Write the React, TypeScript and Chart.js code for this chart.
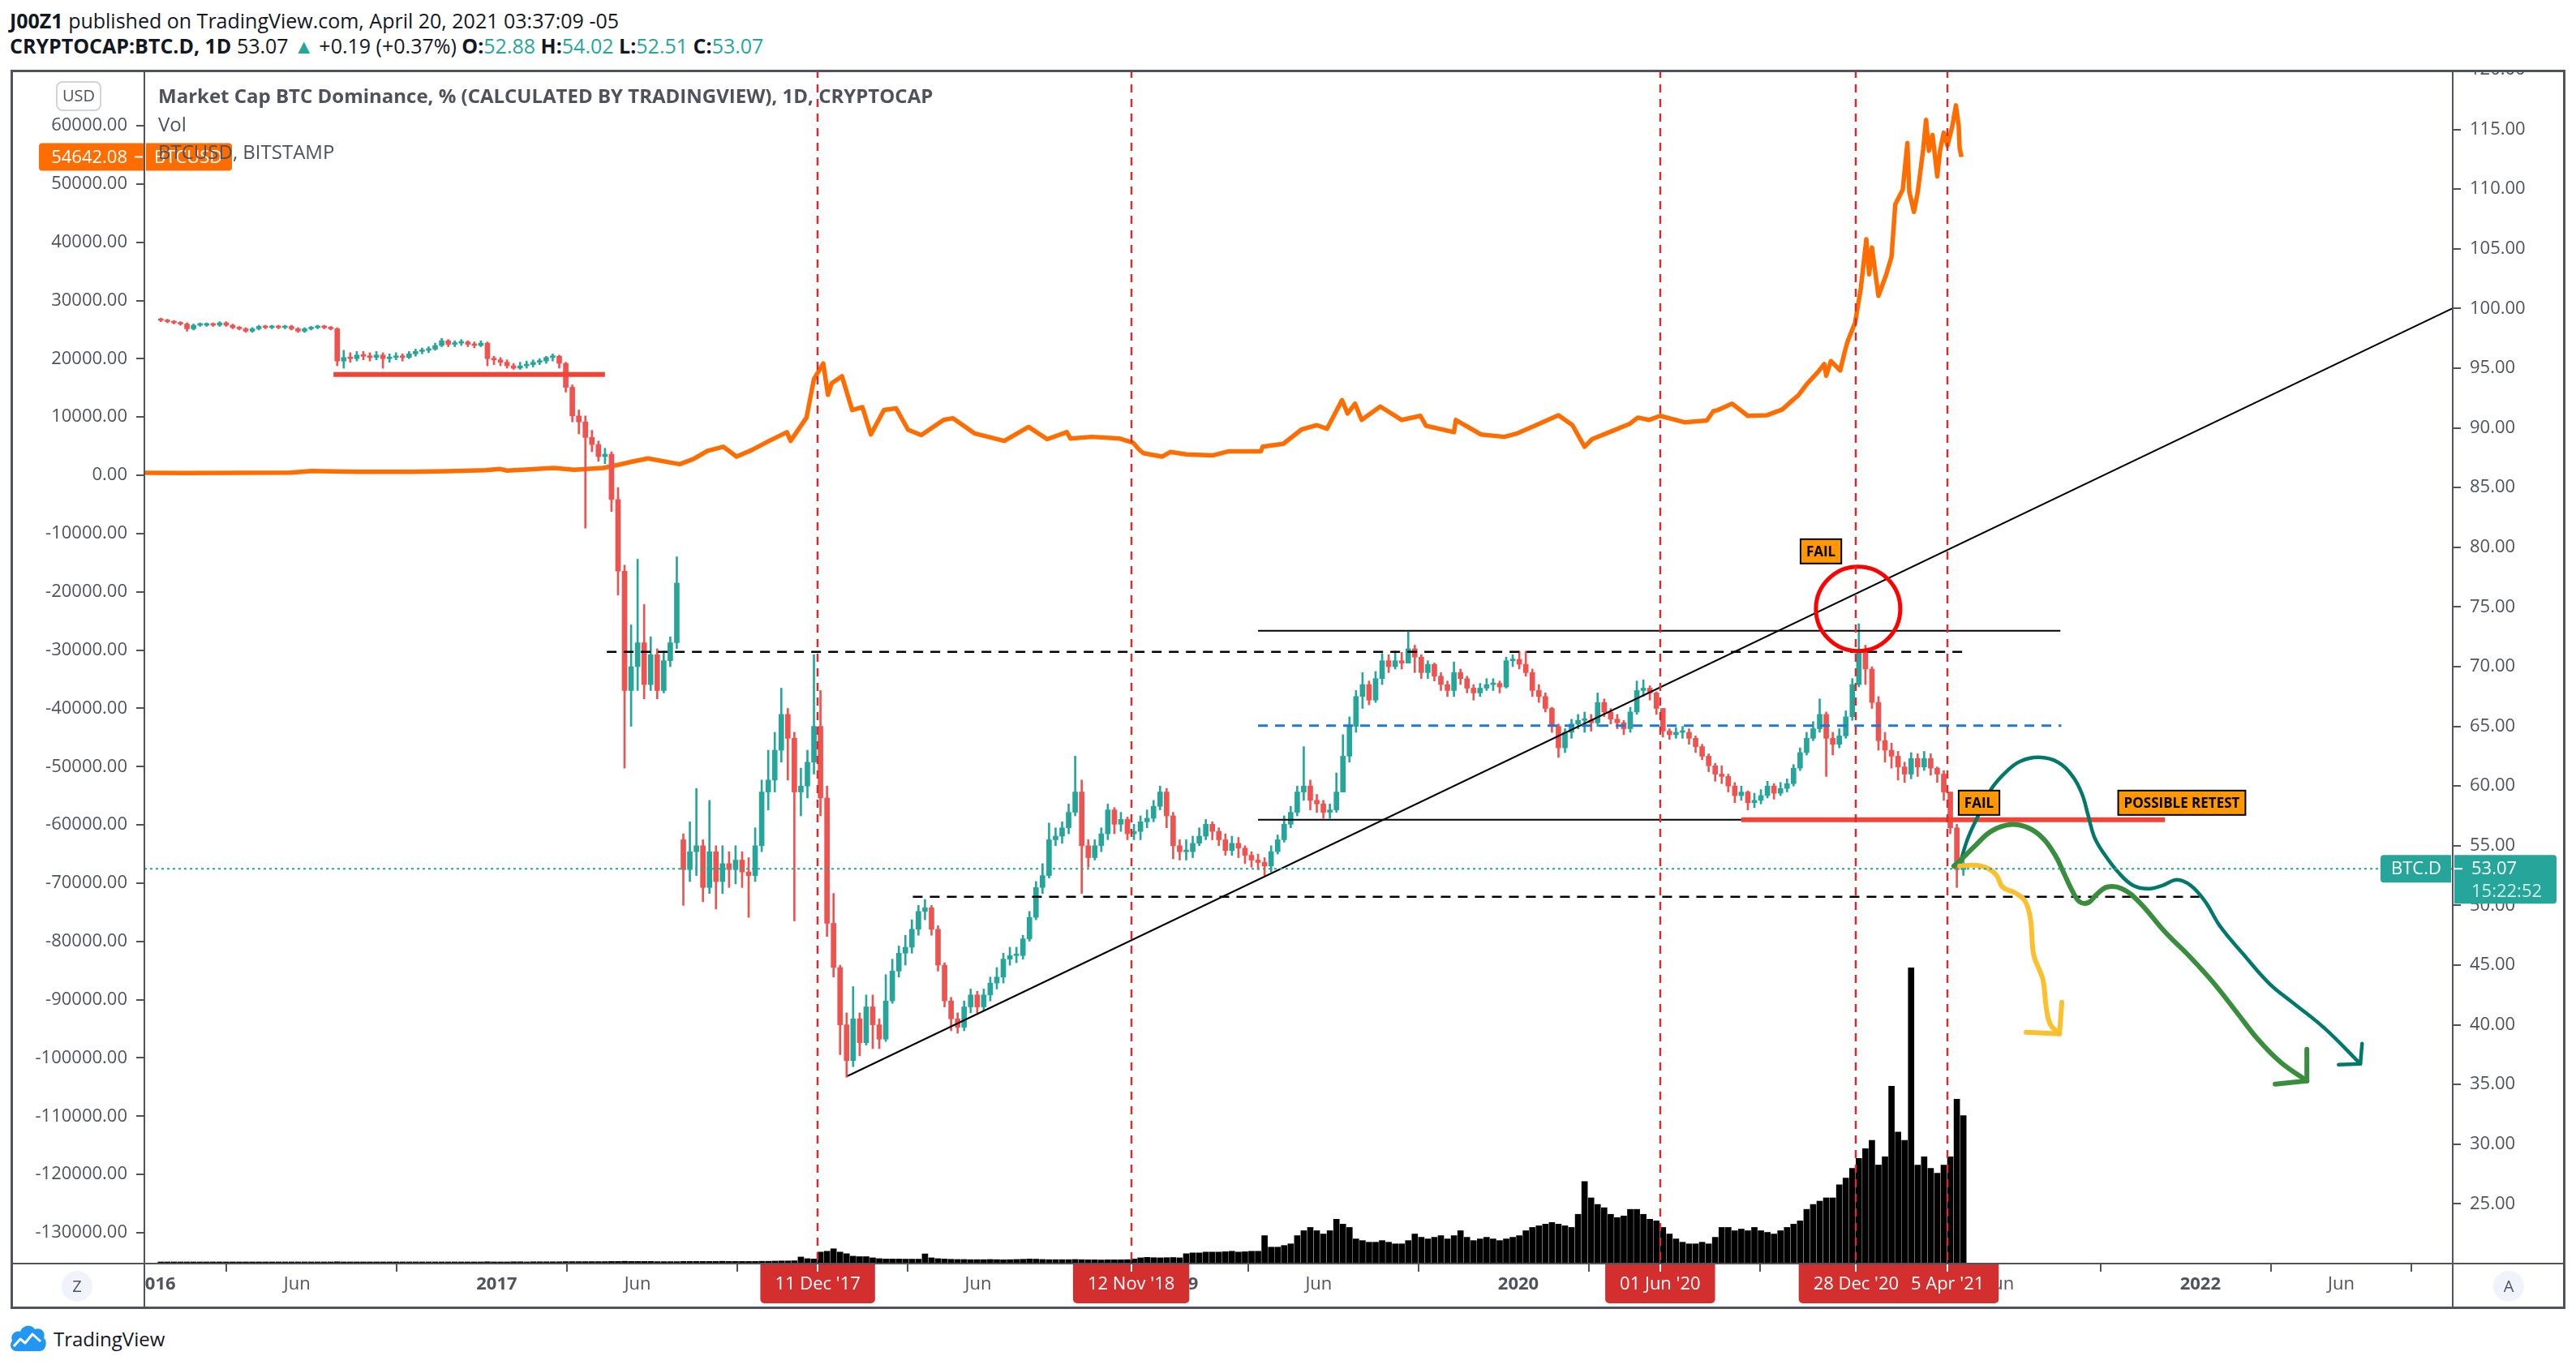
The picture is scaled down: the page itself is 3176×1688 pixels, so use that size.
import React, { useEffect, useRef } from 'react';
import { Chart, registerables } from 'chart.js';

Chart.register(...registerables);

// ---------------- DATA ----------------
// BTC dominance, weekly candles [open, high, low, close], weeks start Monday 2016-01-04
const dom2016 = [
  [99.1, 99.2, 98.9, 99.0], [99.0, 99.1, 98.8, 98.9], [98.9, 99.0, 98.7, 98.8], [98.8, 98.9, 98.6, 98.7],
  [98.7, 98.8, 98.1, 98.3], [98.3, 98.7, 98.2, 98.6], [98.6, 98.8, 98.5, 98.6], [98.6, 98.8, 98.5, 98.7],
  [98.7, 98.8, 98.5, 98.6], [98.6, 98.9, 98.5, 98.8], [98.8, 98.9, 98.5, 98.6], [98.6, 98.7, 98.3, 98.4],
  [98.4, 98.5, 98.2, 98.3], [98.3, 98.4, 98.0, 98.1], [98.1, 98.4, 98.0, 98.3], [98.3, 98.6, 98.2, 98.5],
  [98.5, 98.6, 98.3, 98.4], [98.4, 98.6, 98.3, 98.5], [98.5, 98.6, 98.3, 98.4], [98.4, 98.6, 98.3, 98.5],
  [98.5, 98.6, 98.2, 98.3], [98.3, 98.4, 98.0, 98.1], [98.1, 98.4, 98.0, 98.3], [98.3, 98.5, 98.2, 98.4],
  [98.4, 98.6, 98.3, 98.5], [98.5, 98.6, 98.3, 98.4], [98.4, 98.5, 98.2, 98.3], [98.3, 98.4, 95.2, 95.6],
  [95.6, 96.5, 95.0, 95.9], [95.9, 96.3, 95.5, 95.8], [95.8, 96.4, 95.6, 96.1], [96.1, 96.4, 95.7, 96.0],
  [96.0, 96.3, 95.6, 95.9], [95.9, 96.4, 95.7, 96.1], [96.1, 96.3, 95.0, 95.8], [95.8, 96.2, 95.5, 95.9],
  [95.9, 96.3, 95.7, 96.0], [96.0, 96.2, 95.6, 95.9], [95.9, 96.4, 95.8, 96.2], [96.2, 96.6, 96.0, 96.4],
  [96.4, 96.7, 96.2, 96.5], [96.5, 96.8, 96.3, 96.6], [96.6, 97.1, 96.5, 96.9], [96.9, 97.5, 96.8, 97.3],
  [97.3, 97.4, 96.8, 97.0], [97.0, 97.3, 96.8, 97.1], [97.1, 97.4, 96.9, 97.2], [97.2, 97.3, 96.8, 97.0],
  [97.0, 97.2, 96.7, 96.9], [96.9, 97.3, 96.8, 97.1], [97.1, 97.2, 95.2, 95.8], [95.8, 96.0, 95.3, 95.7],
];
const dom2017 = [
  [95.7, 95.9, 95.2, 95.5], [95.5, 95.7, 95.0, 95.2], [95.2, 95.4, 94.9, 95.0], [95.0, 95.5, 94.9, 95.2],
  [95.2, 95.6, 95.0, 95.3], [95.3, 95.7, 95.1, 95.5], [95.5, 95.8, 95.3, 95.6], [95.6, 96.0, 95.4, 95.9],
  [95.9, 96.2, 95.6, 96.0], [96.0, 96.1, 95.0, 95.4], [95.4, 95.5, 93.0, 93.4], [93.4, 93.6, 90.5, 91.0],
  [91.0, 91.5, 89.5, 90.5], [90.5, 91.0, 81.6, 89.2], [89.2, 89.8, 88.0, 88.6], [88.6, 88.9, 87.2, 87.6],
  [87.6, 88.3, 87.0, 87.8], [87.8, 88.0, 83.0, 84.0], [84.0, 85.0, 76.0, 78.0], [78.0, 78.5, 61.5, 68.0],
  [68.0, 73.5, 65.0, 70.0], [70.0, 79.0, 68.0, 72.0], [72.0, 75.2, 67.3, 68.5], [68.5, 72.5, 68.0, 71.0],
  [71.0, 71.5, 67.3, 68.0], [68.0, 71.3, 67.8, 70.5], [70.5, 72.5, 70.0, 72.0], [72.0, 79.2, 71.5, 77.0],
  [55.5, 56.0, 50.0, 53.0], [53.0, 57.0, 52.0, 54.5], [54.5, 59.8, 52.5, 55.0], [55.0, 55.5, 50.3, 51.5],
  [51.5, 58.8, 51.0, 54.5], [54.5, 55.0, 49.7, 52.0], [52.0, 55.0, 51.0, 53.5], [53.5, 54.5, 51.5, 53.0],
  [53.0, 55.0, 51.8, 53.8], [53.8, 54.5, 51.5, 52.8], [52.8, 54.0, 49.0, 52.5], [52.5, 56.5, 52.0, 55.0],
  [55.0, 60.5, 54.5, 59.5], [59.5, 63.0, 58.0, 60.5], [60.5, 64.5, 59.5, 63.0], [63.0, 68.2, 62.0, 66.0],
  [66.0, 66.5, 60.5, 64.0], [64.0, 64.5, 48.7, 59.5], [59.5, 61.5, 57.5, 60.0], [60.0, 63.0, 59.0, 62.0],
  [62.0, 71.0, 61.0, 65.0], [65.0, 68.0, 57.5, 59.0], [59.0, 60.0, 47.4, 48.5], [48.5, 51.0, 44.0, 44.8],
];
const dom2018 = [
  [44.8, 45.0, 37.5, 40.0], [40.0, 41.0, 35.6, 37.0], [37.0, 43.2, 36.5, 40.5], [40.5, 41.0, 37.4, 38.5],
  [38.5, 42.5, 38.3, 41.5], [41.5, 42.5, 38.0, 40.0], [40.0, 40.5, 38.0, 38.8], [38.8, 44.2, 38.6, 42.0],
  [42.0, 45.5, 41.8, 44.5], [44.5, 46.6, 44.0, 46.0], [46.0, 47.5, 45.0, 46.5], [46.5, 48.8, 46.0, 48.0],
  [48.0, 50.0, 47.5, 49.5], [49.5, 50.5, 48.8, 49.8], [49.8, 50.0, 47.5, 48.0], [48.0, 48.3, 44.5, 45.0],
  [45.0, 45.2, 41.5, 42.0], [42.0, 42.3, 39.5, 40.5], [40.5, 41.0, 39.3, 39.8], [39.8, 42.0, 39.5, 41.5],
  [41.5, 43.0, 41.0, 42.5], [42.5, 42.8, 41.0, 41.5], [41.5, 43.0, 41.2, 42.5], [42.5, 44.0, 42.0, 43.5],
  [43.5, 44.8, 43.0, 44.0], [44.0, 46.0, 43.5, 45.5], [45.5, 46.5, 45.0, 45.8], [45.8, 46.5, 45.2, 45.8],
  [45.8, 47.5, 45.5, 47.2], [47.2, 49.5, 47.0, 49.0], [49.0, 52.0, 48.8, 51.5], [51.5, 53.5, 51.0, 52.5],
  [52.5, 56.9, 52.3, 55.5], [55.5, 56.5, 55.0, 55.8], [55.8, 57.0, 55.2, 56.5], [56.5, 58.5, 56.0, 57.8],
  [57.8, 62.5, 57.5, 59.5], [59.5, 60.5, 51.0, 55.0], [55.0, 55.5, 53.2, 54.0], [54.0, 55.5, 53.8, 55.0],
  [55.0, 56.5, 54.5, 56.0], [56.0, 58.5, 55.5, 58.0], [58.0, 58.2, 56.0, 56.8], [56.8, 57.8, 56.2, 57.2],
  [57.2, 57.4, 55.5, 56.0], [56.0, 56.8, 55.5, 56.2], [56.2, 57.5, 55.5, 57.0], [57.0, 58.0, 56.5, 57.3],
  [57.3, 58.8, 57.0, 58.3], [58.3, 60.0, 58.0, 59.5], [59.5, 59.8, 56.5, 57.5], [57.5, 57.8, 53.9, 55.0],
  [55.0, 55.5, 53.8, 54.5],
];
const dom2019 = [
  [54.5, 55.5, 53.8, 54.5], [54.5, 55.8, 54.0, 55.2], [55.2, 56.5, 55.0, 55.8], [55.8, 57.2, 55.5, 56.8],
  [56.8, 57.0, 55.5, 56.2], [56.2, 56.5, 55.0, 55.5], [55.5, 56.0, 54.2, 54.6], [54.6, 55.8, 54.2, 55.2],
  [55.2, 55.7, 54.0, 54.8], [54.8, 55.0, 53.5, 54.2], [54.2, 54.5, 53.2, 53.8], [53.8, 54.3, 53.0, 53.6],
  [53.6, 54.0, 52.5, 53.3], [53.3, 55.0, 52.8, 54.5], [54.5, 55.9, 54.3, 55.5], [55.5, 57.5, 55.3, 56.8],
  [56.8, 58.3, 56.5, 57.8], [57.8, 60.0, 57.5, 59.5], [59.5, 63.3, 58.8, 60.0], [60.0, 60.5, 58.0, 58.8],
  [58.8, 59.3, 57.8, 58.5], [58.5, 58.8, 57.3, 57.8], [57.8, 58.5, 57.3, 58.0], [58.0, 61.1, 57.8, 59.5],
  [59.5, 64.3, 59.5, 62.5], [62.5, 65.8, 62.0, 65.0], [65.0, 68.0, 64.5, 67.5], [67.5, 69.5, 66.5, 68.5],
  [68.5, 68.8, 66.8, 67.2], [67.2, 69.6, 67.0, 69.0], [69.0, 71.1, 68.5, 70.5], [70.5, 71.0, 69.5, 70.0],
  [70.0, 71.3, 69.8, 70.5], [70.5, 71.2, 69.8, 70.3], [70.3, 72.9, 70.3, 71.5], [71.5, 71.8, 69.5, 70.8],
  [70.8, 71.0, 69.0, 69.5], [69.5, 70.5, 69.0, 70.2], [70.2, 70.3, 68.8, 69.2], [69.2, 69.5, 68.0, 68.5],
  [68.5, 68.8, 67.5, 68.0], [68.0, 70.4, 67.5, 69.5], [69.5, 69.8, 68.5, 69.0], [69.0, 69.2, 67.8, 68.2],
  [68.2, 68.5, 67.2, 67.8], [67.8, 68.6, 67.5, 68.2], [68.2, 69.0, 68.0, 68.5], [68.5, 69.0, 68.0, 68.6],
  [68.6, 68.8, 67.8, 68.3], [68.3, 70.8, 68.2, 70.5], [70.5, 71.0, 70.0, 70.6], [70.6, 71.3, 69.8, 70.2],
];
const dom2020 = [
  [70.2, 71.3, 69.2, 69.5], [69.5, 69.8, 67.5, 68.0], [68.0, 68.5, 67.0, 67.5], [67.5, 67.8, 66.2, 66.5],
  [66.5, 66.6, 64.5, 65.0], [65.0, 65.2, 62.4, 63.2], [63.2, 64.8, 62.8, 64.5], [64.5, 65.6, 64.0, 65.2],
  [65.2, 66.0, 64.8, 65.5], [65.5, 66.2, 64.5, 65.5], [65.5, 66.0, 64.6, 65.3], [65.3, 67.8, 65.0, 67.0],
  [67.0, 67.3, 65.8, 66.2], [66.2, 66.5, 65.2, 65.6], [65.6, 66.0, 64.8, 65.3], [65.3, 65.5, 64.3, 64.8],
  [64.8, 66.6, 64.5, 66.2], [66.2, 68.8, 66.0, 68.0], [68.0, 68.9, 67.5, 68.2], [68.2, 68.4, 67.2, 67.8],
  [67.8, 67.9, 66.0, 66.5], [66.5, 66.5, 64.1, 64.6], [64.6, 64.8, 63.9, 64.3], [64.3, 64.9, 64.0, 64.5],
  [64.5, 65.0, 64.0, 64.5], [64.5, 64.8, 63.5, 64.0], [64.0, 64.2, 62.8, 63.3], [63.3, 63.5, 62.2, 62.5],
  [62.5, 62.7, 61.2, 61.7], [61.7, 61.9, 60.4, 61.0], [61.0, 61.7, 60.2, 60.8], [60.8, 61.0, 59.5, 60.0],
  [60.0, 60.3, 58.6, 59.2], [59.2, 60.0, 58.8, 59.5], [59.5, 59.6, 58.0, 58.6], [58.6, 59.4, 58.2, 58.8],
  [58.8, 59.7, 58.5, 59.2], [59.2, 60.4, 59.0, 60.0], [60.0, 60.2, 58.9, 59.4], [59.4, 60.3, 59.2, 59.8],
  [59.8, 60.6, 59.5, 60.2], [60.2, 61.8, 60.0, 61.5], [61.5, 63.2, 61.3, 62.8], [62.8, 64.5, 62.6, 64.0],
  [64.0, 65.4, 63.8, 64.8], [64.8, 67.3, 64.5, 66.0], [66.0, 66.2, 60.8, 64.0], [64.0, 64.5, 62.6, 63.5],
  [63.5, 64.8, 63.2, 64.2], [64.2, 66.3, 64.0, 65.8], [65.8, 69.0, 65.5, 68.5], [68.5, 73.6, 68.3, 71.3],
];
const dom2021 = [
  [71.3, 71.8, 68.5, 69.8], [69.8, 70.0, 66.5, 67.0], [67.0, 67.5, 63.0, 63.8], [63.8, 64.5, 62.0, 63.0],
  [63.0, 63.6, 61.5, 62.5], [62.5, 62.9, 60.5, 61.6], [61.6, 62.0, 60.3, 61.0], [61.0, 62.8, 60.6, 62.3],
  [62.3, 62.7, 60.8, 61.6], [61.6, 62.9, 61.3, 62.3], [62.3, 62.7, 60.9, 61.5], [61.5, 61.6, 60.3, 61.0],
  [61.0, 61.3, 58.8, 59.5], [59.5, 59.5, 56.0, 56.5], [56.5, 56.8, 51.5, 53.0], [53.0, 54.02, 52.51, 53.07],
];

// weekly volume (relative units)
const vol2016 = [
  1.0, 1.0, 1.0, 1.0, 1.0, 1.0, 1.0, 1.0, 1.0, 1.0, 1.0, 1.0, 1.0,
  1.0, 1.0, 1.0, 1.0, 1.0, 1.0, 1.0, 1.0, 1.0, 1.0, 1.0, 1.0, 1.0,
  1.0, 1.1, 1.0, 1.0, 1.0, 1.0, 1.0, 1.0, 1.0, 1.0, 1.0, 1.0, 1.0,
  1.0, 1.0, 1.0, 1.0, 1.0, 1.0, 1.0, 1.0, 1.0, 1.0, 1.0, 1.1, 1.0,
];
const vol2017 = [
  1.0, 1.0, 1.1, 1.1, 1.0, 1.1, 1.1, 1.1, 1.1, 1.1, 1.2, 1.2, 1.2,
  1.2, 1.2, 1.2, 1.2, 1.3, 1.3, 1.4, 1.3, 1.3, 1.3, 1.3, 1.2, 1.2,
  1.2, 1.2, 1.3, 1.3, 1.3, 1.3, 1.3, 1.3, 1.4, 1.3, 1.3, 1.3, 1.3,
  1.3, 1.4, 1.4, 1.5, 1.6, 1.6, 1.7, 4.0, 3.0, 2.8, 7.0, 7.5, 9.0,
];
const vol2018 = [
  7.0, 6.0, 4.5, 4.2, 4.2, 3.5, 3.0, 2.8, 2.8, 2.8, 2.7, 2.7, 2.7,
  5.9, 3.5, 3.0, 2.8, 2.6, 2.5, 2.5, 2.4, 2.4, 2.4, 2.5, 2.4, 2.3,
  2.4, 2.5, 2.6, 2.8, 2.7, 2.5, 2.4, 2.4, 2.4, 2.4, 2.5, 2.4, 2.3,
  2.3, 2.2, 2.3, 2.3, 2.3, 2.4, 2.8, 3.5, 3.8, 3.6, 3.5, 3.6, 3.7, 3.5,
];
const vol2019 = [
  6.0, 6.5, 6.5, 7.0, 7.0, 7.0, 7.2, 7.5, 7.0, 7.2, 7.5, 7.5, 17,
  10, 10, 11, 12, 17, 20, 22, 20, 18, 20, 27, 24, 22,
  15, 14, 13, 13, 14, 13, 12, 12, 14, 18, 16, 15, 16,
  17, 15, 17, 20, 16, 14, 15, 16, 15, 14, 15, 16, 17,
];
const vol2020 = [
  20, 22, 23, 24, 25, 24, 23, 22, 30, 50, 40, 36, 34,
  30, 28, 29, 33, 33, 30, 27, 26, 22, 18, 15, 13, 12,
  12, 13, 12, 16, 22, 22, 20, 21, 20, 22, 20, 19, 18,
  20, 22, 24, 26, 33, 36, 38, 40, 40, 48, 52, 58, 64,
];
const vol2021 = [70, 75, 60, 65, 108, 80, 75, 180, 60, 65, 58, 55, 60, 65, 100, 90];

// BTCUSD (Bitstamp) close, left axis
const btcDates = [
  '2015-12-20', '2016-02-01', '2016-04-01', '2016-05-25', '2016-06-17', '2016-07-10', '2016-08-05', '2016-10-01', '2016-11-10', '2016-12-20',
  '2017-01-04', '2017-01-12', '2017-02-01', '2017-03-03', '2017-03-25', '2017-04-25', '2017-05-10', '2017-05-25', '2017-06-12', '2017-07-16',
  '2017-07-31', '2017-08-15', '2017-09-01', '2017-09-15', '2017-10-01', '2017-10-20', '2017-11-08', '2017-11-12', '2017-11-29', '2017-12-07',
  '2017-12-17', '2017-12-22', '2017-12-26', '2018-01-06', '2018-01-17', '2018-01-28', '2018-02-06', '2018-02-20', '2018-03-05', '2018-03-18',
  '2018-04-01', '2018-04-25', '2018-05-05', '2018-05-28', '2018-06-29', '2018-07-25', '2018-08-14', '2018-09-04', '2018-09-08', '2018-10-01',
  '2018-10-31', '2018-11-14', '2018-11-20', '2018-11-25', '2018-12-15', '2018-12-24', '2019-01-10', '2019-02-07', '2019-02-24', '2019-03-31',
  '2019-04-02', '2019-04-24', '2019-05-14', '2019-05-30', '2019-06-10', '2019-06-26', '2019-07-02', '2019-07-10', '2019-07-17', '2019-08-06',
  '2019-08-29', '2019-09-18', '2019-09-24', '2019-10-24', '2019-10-26', '2019-11-22', '2019-12-17', '2019-12-31', '2020-01-20', '2020-02-13',
  '2020-02-28', '2020-03-12', '2020-03-20', '2020-04-06', '2020-04-29', '2020-05-08', '2020-05-20', '2020-06-01', '2020-06-27', '2020-07-21',
  '2020-07-28', '2020-08-02', '2020-08-17', '2020-09-03', '2020-09-23', '2020-10-10', '2020-10-21', '2020-10-27', '2020-11-05', '2020-11-17',
  '2020-11-24', '2020-11-26', '2020-12-01', '2020-12-11', '2020-12-16', '2020-12-19', '2020-12-27', '2021-01-02', '2021-01-08', '2021-01-11',
  '2021-01-14', '2021-01-21', '2021-01-29', '2021-02-04', '2021-02-08', '2021-02-16', '2021-02-21', '2021-02-23', '2021-02-28', '2021-03-04',
  '2021-03-10', '2021-03-13', '2021-03-16', '2021-03-20', '2021-03-25', '2021-03-28', '2021-04-01', '2021-04-05', '2021-04-10', '2021-04-14',
  '2021-04-17', '2021-04-18', '2021-04-20',
];
const btcPrices = [
  440, 380, 420, 450, 750, 650, 590, 610, 700, 890,
  1100, 800, 980, 1250, 950, 1250, 1750, 2300, 2900, 1900,
  2800, 4200, 4900, 3200, 4300, 5900, 7400, 5900, 9900, 16500,
  19200, 13800, 15800, 17000, 11200, 11700, 7000, 11200, 11500, 7800,
  6900, 9500, 9800, 7200, 5900, 8300, 6200, 7400, 6300, 6600,
  6300, 5600, 4500, 3800, 3200, 4000, 3600, 3400, 4100, 4100,
  4900, 5400, 7900, 8600, 8000, 12900, 10600, 12300, 9500, 11800,
  9500, 10200, 8500, 7400, 9500, 7000, 6600, 7200, 8600, 10300,
  8600, 4900, 6200, 7300, 8800, 9900, 9500, 10200, 9100, 9400,
  11000, 11200, 12300, 10200, 10300, 11300, 12900, 13700, 15600, 17700,
  19100, 17100, 19600, 18000, 21300, 23000, 26200, 32000, 40500, 34500,
  39100, 30800, 34300, 37500, 46500, 49000, 57000, 48700, 45200, 48500,
  56000, 61000, 55700, 58400, 51300, 55700, 58800, 56600, 59800, 63500,
  60000, 56100, 54642.08,
];

// axes
const xTickDates = ['2016-01-01', '2016-06-01', '2017-01-01', '2017-06-01', '2018-01-01', '2018-06-01', '2019-01-01',
  '2019-06-01', '2020-01-01', '2020-06-01', '2021-01-01', '2021-06-01', '2022-01-01', '2022-06-01'];
const xTickLabels = ['2016', 'Jun', '2017', 'Jun', '2018', 'Jun', '2019', 'Jun', '2020', 'Jun', '2021', 'Jun', '2022', 'Jun'];
const usdTicks = [60000, 50000, 40000, 30000, 20000, 10000, 0, -10000, -20000, -30000, -40000, -50000, -60000,
  -70000, -80000, -90000, -100000, -110000, -120000, -130000];
const domTicks = [120, 115, 110, 105, 100, 95, 90, 85, 80, 75, 70, 65, 60, 55, 50, 45, 40, 35, 30, 25];

// marked dates
const markerDates = ['2017-12-11', '2018-11-12', '2020-06-01', '2020-12-28', '2021-04-05'];
const markerLabels = ["11 Dec '17", "12 Nov '18", "01 Jun '20", "28 Dec '20", "5 Apr '21"];

// drawings (date, dominance %)
const topResistance = [['2019-03-28', 73.0], ['2021-08-04', 73.0]];
const upperDashed = [['2017-04-29', 71.24], ['2021-04-25', 71.24]];
const midBlueDashed = [['2019-03-28', 65.05], ['2021-08-05', 65.05]];
const lowerSupport = [['2019-03-28', 57.17], ['2020-08-27', 57.17]];
const redSupport = [['2020-08-27', 57.17], ['2021-11-24', 57.17]];
const redSupport2016 = [['2016-07-10', 94.47], ['2017-04-27', 94.47]];
const lowerDashed = [['2018-03-23', 50.72], ['2021-12-31', 50.72]];
const trendLine = [['2018-01-12', 35.71], ['2022-09-28', 100.0]];

// hand drawn projections (decimal year, dominance %)
const tealPath = [
  [2021.295, 53.37], [2021.319, 55.61], [2021.354, 57.79], [2021.388, 59.76], [2021.431, 61.18], [2021.473, 62.07],
  [2021.528, 62.4], [2021.583, 62.0], [2021.626, 60.84], [2021.654, 59.35], [2021.673, 57.45], [2021.69, 55.75],
  [2021.719, 54.32], [2021.761, 52.76], [2021.804, 51.67], [2021.847, 51.4], [2021.89, 51.67], [2021.933, 52.15],
  [2021.973, 51.67], [2022.016, 50.31], [2022.059, 48.27], [2022.128, 45.9], [2022.204, 43.45], [2022.271, 41.89],
  [2022.366, 39.71], [2022.471, 36.73],
];
const tealArrow = [[2022.407, 36.66], [2022.471, 36.73], [2022.476, 38.42]];
const greenPath = [
  [2021.278, 53.3], [2021.295, 53.71], [2021.338, 54.93], [2021.388, 56.22], [2021.443, 56.77], [2021.497, 56.49],
  [2021.54, 55.61], [2021.576, 54.18], [2021.6, 52.76], [2021.626, 51.2], [2021.647, 50.31], [2021.673, 50.24],
  [2021.697, 50.92], [2021.728, 51.54], [2021.771, 51.4], [2021.821, 50.31], [2021.897, 47.8], [2021.973, 45.63],
  [2022.042, 43.45], [2022.111, 40.94], [2022.171, 38.76], [2022.237, 36.86], [2022.314, 35.3],
];
const greenArrow = [[2022.221, 35.03], [2022.314, 35.3], [2022.314, 37.95]];
const yellowPath = [
  [2021.295, 53.3], [2021.338, 53.37], [2021.378, 53.1], [2021.404, 52.49], [2021.421, 51.54], [2021.457, 51.06],
  [2021.485, 50.45], [2021.502, 49.02], [2021.512, 45.9], [2021.528, 44.67], [2021.54, 43.72], [2021.55, 41.28],
  [2021.562, 39.99], [2021.588, 39.24],
];
const yellowArrow = [[2021.49, 39.38], [2021.588, 39.24], [2021.595, 41.89]];
const failCircle = [[2020.997, 74.84]];
const noteTexts = ['FAIL', 'FAIL', 'POSSIBLE RETEST'];
const notePoints = [[2020.888, 79.66], [2021.352, 58.6], [2021.947, 58.6]];

// ---------------- HELPERS ----------------
const FONT = '"Open Sans"';
const AXIS = '#50535e';
const UP = '#26a69a';
const DOWN = '#ef5350';
const MS2016 = Date.UTC(2016, 0, 1);
const YEAR_MS = 365.25 * 86400000;
const yearOfMs = (ms: number) => 2016 + (ms - MS2016) / YEAR_MS;
const yearOf = (d: string) => yearOfMs(Date.parse(d));
const X_MIN = 2015.968;
const X_MAX = 2022.742;

const candles = [...dom2016, ...dom2017, ...dom2018, ...dom2019, ...dom2020, ...dom2021];
const volumes = [...vol2016, ...vol2017, ...vol2018, ...vol2019, ...vol2020, ...vol2021];
const candleX = candles.map((_, i) => yearOfMs(Date.UTC(2016, 0, 4) + (7 * i + 3) * 86400000));
const candleColors = candles.map((c) => (c[3] >= c[0] ? UP : DOWN));
const lastClose = candles[candles.length - 1][3];
const lastPrice = btcPrices[btcPrices.length - 1];

const toPts = (arr: any[]) => arr.map(([d, v]) => ({ x: typeof d === 'string' ? yearOf(d) : d, y: v }));

const seg = (arr: any[], color: string, width: number, dash: number[] = [], order = 5) => ({
  type: 'line',
  data: toPts(arr),
  yAxisID: 'yR',
  borderColor: color,
  borderWidth: width,
  borderDash: dash,
  pointRadius: 0,
  tension: 0,
  fill: false,
  order,
});
const curve = (arr: any[], color: string, width: number, tension = 0.4) => ({
  type: 'line',
  data: toPts(arr),
  yAxisID: 'yR',
  borderColor: color,
  borderWidth: width,
  pointRadius: 0,
  tension,
  fill: false,
  borderCapStyle: 'round',
  borderJoinStyle: 'round',
  order: 3,
});

function rr(ctx: CanvasRenderingContext2D, x: number, y: number, w: number, h: number, r: any) {
  ctx.beginPath();
  if ((ctx as any).roundRect) (ctx as any).roundRect(x, y, w, h, r);
  else ctx.rect(x, y, w, h);
}

const overlayPlugin = {
  id: 'overlay',
  afterDatasetsDraw(chart: any) {
    const { ctx, chartArea: a, scales } = chart;
    const xS = scales.x;
    const yR = scales.yR;
    ctx.save();
    ctx.beginPath();
    ctx.rect(a.left, a.top, a.right - a.left, a.bottom - a.top);
    ctx.clip();
    // vertical marker lines
    ctx.strokeStyle = '#d32f2f';
    ctx.lineWidth = 2.5;
    ctx.setLineDash([10, 8]);
    markerDates.forEach((d) => {
      const px = Math.round(xS.getPixelForValue(yearOf(d)));
      ctx.beginPath();
      ctx.moveTo(px, a.top);
      ctx.lineTo(px, a.bottom);
      ctx.stroke();
    });
    // last value dotted line
    const py = yR.getPixelForValue(lastClose);
    ctx.strokeStyle = UP;
    ctx.lineWidth = 2;
    ctx.setLineDash([3, 4]);
    ctx.beginPath();
    ctx.moveTo(a.left, py);
    ctx.lineTo(a.right, py);
    ctx.stroke();
    ctx.setLineDash([]);
    // notes
    ctx.font = `bold 17px ${FONT}`;
    ctx.textAlign = 'center';
    ctx.textBaseline = 'middle';
    notePoints.forEach(([t, v], i) => {
      const px = xS.getPixelForValue(t);
      const ny = yR.getPixelForValue(v);
      const tw = ctx.measureText(noteTexts[i]).width;
      const w = tw + 14;
      const h = 30;
      ctx.fillStyle = '#ff9800';
      ctx.fillRect(px - w / 2, ny - h / 2, w, h);
      ctx.strokeStyle = '#000';
      ctx.lineWidth = 2;
      ctx.strokeRect(px - w / 2, ny - h / 2, w, h);
      ctx.fillStyle = '#000';
      ctx.fillText(noteTexts[i], px, ny + 1);
    });
    ctx.restore();
  },
  afterDraw(chart: any) {
    const { ctx, chartArea: a, scales, width, height } = chart;
    const xS = scales.x;
    const yR = scales.yR;
    const yL = scales.yL;
    ctx.save();
    // blank the corners of the time-axis row
    ctx.fillStyle = '#fff';
    ctx.fillRect(0, a.bottom + 1, a.left - 1, height - a.bottom - 1);
    ctx.fillRect(a.right + 1, a.bottom + 1, width - a.right - 1, height - a.bottom - 1);
    const rowY = a.bottom + (height - a.bottom) / 2;
    // Z / A buttons
    [[82, 'Z'], [3080, 'A']].forEach(([bx, t]: any) => {
      ctx.fillStyle = '#f0f3fa';
      ctx.beginPath();
      ctx.arc(bx, rowY, 19, 0, Math.PI * 2);
      ctx.fill();
      ctx.fillStyle = AXIS;
      ctx.font = `20px ${FONT}`;
      ctx.textAlign = 'center';
      ctx.textBaseline = 'middle';
      ctx.fillText(t, bx, rowY + 1);
    });
    // marker date labels
    ctx.font = `22px ${FONT}`;
    const boxes = markerDates.map((d, i) => ({
      px: xS.getPixelForValue(yearOf(d)),
      tw: ctx.measureText(markerLabels[i]).width,
    }));
    ctx.fillStyle = '#d32f2f';
    boxes.forEach((b) => {
      rr(ctx, b.px - b.tw / 2 - 18, a.bottom + 1, b.tw + 36, 48, [0, 0, 5, 5]);
      ctx.fill();
    });
    ctx.fillStyle = '#fff';
    ctx.textAlign = 'center';
    ctx.textBaseline = 'middle';
    boxes.forEach((b, i) => {
      ctx.fillText(markerLabels[i], b.px, a.bottom + 26);
      ctx.fillRect(Math.round(b.px) - 1, a.bottom + 1, 2, 9);
    });

    // left axis: USD box
    ctx.strokeStyle = '#d1d4dc';
    ctx.lineWidth = 2;
    rr(ctx, 57, 15, 54, 35, 7);
    ctx.stroke();
    ctx.fillStyle = AXIS;
    ctx.font = `20px ${FONT}`;
    ctx.fillText('USD', 84, 33);

    // BTCUSD last price label
    const pyL = yL.getPixelForValue(lastPrice);
    ctx.fillStyle = '#ff6d00';
    rr(ctx, 35, pyL - 17, a.left - 35, 34, [4, 0, 0, 4]);
    ctx.fill();
    rr(ctx, a.left + 2, pyL - 17, 106, 34, [0, 4, 4, 0]);
    ctx.fill();
    ctx.fillStyle = '#fff';
    ctx.font = `22px ${FONT}`;
    ctx.textAlign = 'right';
    ctx.fillText(lastPrice.toFixed(2), a.left - 21, pyL + 1);
    ctx.fillRect(a.left - 12, pyL - 1, 10, 2);
    ctx.textAlign = 'left';
    ctx.fillText('BTCUSD', a.left + 12, pyL + 1);

    // legend
    ctx.fillStyle = '#4f525c';
    ctx.textAlign = 'left';
    ctx.font = `bold 24px ${FONT}`;
    ctx.fillText('Market Cap BTC Dominance, % (CALCULATED BY TRADINGVIEW), 1D, CRYPTOCAP', a.left + 17, 34);
    ctx.font = `24px ${FONT}`;
    ctx.fillText('Vol', a.left + 17, 69);
    ctx.fillText('BTCUSD, BITSTAMP', a.left + 17, 103);

    // BTC.D last value labels
    const pyR = yR.getPixelForValue(lastClose);
    ctx.font = `22px ${FONT}`;
    ctx.fillStyle = UP;
    rr(ctx, a.right - 89, pyR - 17, 87, 34, [4, 0, 0, 4]);
    ctx.fill();
    rr(ctx, a.right + 2, pyR - 17, 126, 60, [0, 4, 4, 0]);
    ctx.fill();
    ctx.fillStyle = '#fff';
    ctx.textAlign = 'center';
    ctx.fillText('BTC.D', a.right - 45, pyR + 1);
    ctx.textAlign = 'left';
    ctx.fillText(lastClose.toFixed(2), a.right + 23, pyR + 1);
    ctx.fillRect(a.right + 2, pyR - 1, 10, 2);
    ctx.fillStyle = 'rgba(255,255,255,0.78)';
    ctx.fillText('15:22:52', a.right + 23, pyR + 29);

    // frame
    ctx.strokeStyle = AXIS;
    ctx.lineWidth = 2;
    ctx.beginPath();
    ctx.moveTo(0, a.bottom);
    ctx.lineTo(width, a.bottom);
    ctx.moveTo(a.left, 0);
    ctx.lineTo(a.left, height);
    ctx.moveTo(a.right, 0);
    ctx.lineTo(a.right, height);
    ctx.stroke();
    ctx.lineWidth = 3;
    ctx.strokeRect(1.5, 1.5, width - 3, height - 3);
    ctx.restore();
  },
};

const tickFont = { family: FONT, size: 22 };

export default function App() {
  const ref = useRef<HTMLCanvasElement>(null);

  useEffect(() => {
    const canvas = ref.current;
    if (!canvas) return;
    const datasets: any[] = [
      {
        type: 'bar',
        label: 'Vol',
        data: candleX.map((x, i) => ({ x, y: volumes[i] })),
        yAxisID: 'yV',
        backgroundColor: '#000',
        barThickness: 7,
        grouped: false,
        order: 20,
      },
      {
        type: 'line',
        label: 'BTCUSD',
        data: btcDates.map((d, i) => ({ x: yearOf(d), y: btcPrices[i] })),
        yAxisID: 'yL',
        borderColor: '#ff6d00',
        borderWidth: 5.5,
        pointRadius: 0,
        tension: 0,
        borderJoinStyle: 'round',
        order: 15,
      },
      {
        type: 'bar',
        label: 'wick',
        data: candleX.map((x, i) => ({ x, y: [candles[i][2], candles[i][1]] })),
        yAxisID: 'yR',
        backgroundColor: candleColors,
        barThickness: 2,
        grouped: false,
        order: 12,
      },
      {
        type: 'bar',
        label: 'body',
        data: candleX.map((x, i) => ({ x, y: [candles[i][0], candles[i][3]] })),
        yAxisID: 'yR',
        backgroundColor: candleColors,
        barThickness: 6,
        minBarLength: 2,
        grouped: false,
        order: 11,
      },
      seg(redSupport2016, '#f44336', 6),
      seg(topResistance, '#000', 2),
      seg(upperDashed, '#000', 2.5, [12, 9]),
      seg(midBlueDashed, '#1e78d7', 3, [12, 9]),
      seg(lowerSupport, '#000', 2),
      seg(redSupport, '#f44336', 6),
      seg(lowerDashed, '#000', 2.5, [12, 9]),
      seg(trendLine, '#000', 2),
      curve(yellowPath, '#fbc02d', 6),
      curve(yellowArrow, '#fbc02d', 6, 0),
      curve(greenPath, '#388e3c', 6),
      curve(greenArrow, '#388e3c', 6, 0),
      curve(tealPath, '#00796b', 4.5),
      curve(tealArrow, '#00796b', 4.5, 0),
      {
        type: 'scatter',
        data: toPts(failCircle),
        yAxisID: 'yR',
        pointRadius: 52,
        pointBorderWidth: 5,
        pointBorderColor: '#ff0000',
        pointBackgroundColor: 'rgba(0,0,0,0)',
        showLine: false,
        order: 2,
      },
    ];

    const chart = new Chart(canvas, {
      type: 'bar',
      data: { datasets },
      options: {
        animation: false,
        responsive: false,
        devicePixelRatio: 1,
        events: [],
        layout: { padding: 0, autoPadding: false },
        plugins: { legend: { display: false }, tooltip: { enabled: false } },
        scales: {
          x: {
            type: 'linear',
            position: 'bottom',
            min: X_MIN,
            max: X_MAX,
            offset: false,
            afterBuildTicks: (s: any) => {
              s.ticks = xTickDates.map((d) => ({ value: yearOf(d) }));
            },
            afterFit: (s: any) => {
              s.height = 56;
              s.paddingLeft = 0;
              s.paddingRight = 0;
            },
            ticks: {
              autoSkip: false,
              maxRotation: 0,
              minRotation: 0,
              padding: 3,
              color: AXIS,
              font: (c: any) => ({ family: FONT, size: 22, weight: c.index % 2 === 0 ? 'bold' : 'normal' }),
              callback: (_v: any, i: number) => xTickLabels[i],
            },
            grid: { drawOnChartArea: false, drawTicks: true, tickLength: 10, color: AXIS, lineWidth: 2 },
            border: { display: true, color: AXIS, width: 2 },
          },
          yL: {
            type: 'linear',
            position: 'left',
            min: -135295,
            max: 69605,
            afterBuildTicks: (s: any) => {
              s.ticks = usdTicks.map((v) => ({ value: v }));
            },
            afterFit: (s: any) => {
              s.width = 165;
              s.paddingTop = 0;
              s.paddingBottom = 0;
            },
            ticks: {
              padding: 11,
              color: AXIS,
              font: tickFont,
              callback: (v: any) => Number(v).toFixed(2),
            },
            grid: { drawOnChartArea: false, drawTicks: true, tickLength: 10, color: AXIS, lineWidth: 2 },
            border: { display: true, color: AXIS, width: 2 },
          },
          yR: {
            type: 'linear',
            position: 'right',
            min: 20,
            max: 120,
            afterBuildTicks: (s: any) => {
              s.ticks = domTicks.map((v) => ({ value: v }));
            },
            afterFit: (s: any) => {
              s.width = 139;
              s.paddingTop = 0;
              s.paddingBottom = 0;
            },
            ticks: {
              padding: 11,
              color: AXIS,
              font: tickFont,
              callback: (v: any) => Number(v).toFixed(2),
            },
            grid: { drawOnChartArea: false, drawTicks: true, tickLength: 10, color: AXIS, lineWidth: 2 },
            border: { display: true, color: AXIS, width: 2 },
          },
          yV: {
            type: 'linear',
            display: false,
            min: 0,
            max: 726.7,
          },
        },
      } as any,
      plugins: [overlayPlugin],
    } as any);
    return () => chart.destroy();
  }, []);

  const teal = { color: UP };
  return (
    <div
      style={{
        position: 'fixed',
        left: 0,
        top: 0,
        width: 3176,
        height: 1688,
        background: '#fff',
        overflow: 'hidden',
        fontFamily: `${FONT}, sans-serif`,
        color: '#131722',
      }}
    >
      <div style={{ position: 'absolute', left: 12, top: 8, fontSize: 25, lineHeight: '34px', whiteSpace: 'nowrap' }}>
        <b>J00Z1</b> published on TradingView.com, April 20, 2021 03:37:09 -05
      </div>
      <div style={{ position: 'absolute', left: 12, top: 39, fontSize: 25, lineHeight: '34px', whiteSpace: 'nowrap' }}>
        <b>CRYPTOCAP:BTC.D, 1D</b>
        {' 53.07 '}
        <span style={teal}>▲</span>
        {' +0.19 (+0.37%) '}
        <b>O:</b>
        <span style={teal}>52.88</span> <b>H:</b>
        <span style={teal}>54.02</span> <b>L:</b>
        <span style={teal}>52.51</span> <b>C:</b>
        <span style={teal}>53.07</span>
      </div>
      <canvas
        ref={ref}
        width={3150}
        height={1528}
        style={{ position: 'absolute', left: 13, top: 86, width: 3150, height: 1528 }}
      />
      <svg style={{ position: 'absolute', left: 10, top: 1630 }} width={50} height={40} viewBox="0 0 50 40">
        <path
          d="M11 36 C3 36 1 28 5 23 C2 16 9 10 15 12 C17 4 29 2 33 9 C40 6 47 12 44 20 C49 23 47 36 39 36 Z"
          fill="#2196f3"
        />
        <path d="M7 30 L15 21 L21 26 L30 15 L40 24" fill="none" stroke="#fff" strokeWidth={3} strokeLinejoin="round" />
      </svg>
      <div style={{ position: 'absolute', left: 66, top: 1634, fontSize: 24, lineHeight: '34px', color: '#131722' }}>
        TradingView
      </div>
    </div>
  );
}
